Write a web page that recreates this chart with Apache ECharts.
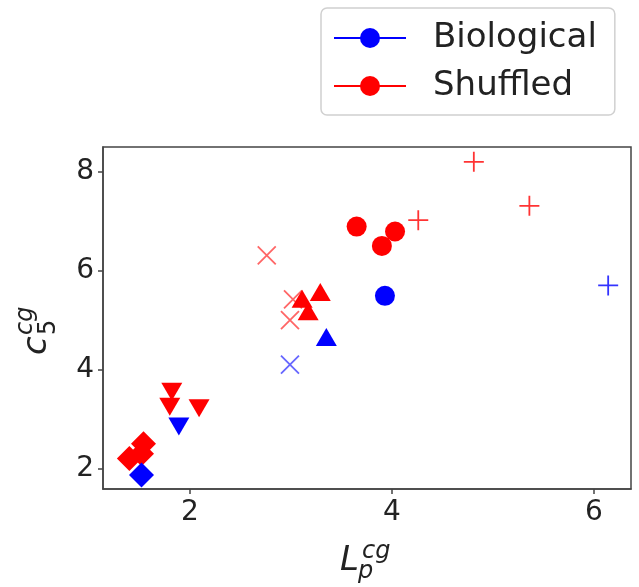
<!DOCTYPE html>
<html>
<head>
<meta charset="utf-8">
<script src="https://cdn.jsdelivr.net/npm/echarts@6/dist/echarts.min.js"></script>
<style>
  html, body { margin: 0; padding: 0; background: #fff; }
  #main { width: 639px; height: 587px; }
</style>
</head>
<body>
<div id="main"></div>
<script>
// tick labels
var xTicks = [2, 4, 6];
var yTicks = [2, 4, 6, 8];

// biological points, one per marker shape [L_p, c_5]
var bioDiamond = [[1.52, 1.87]];
var bioDown = [[1.89, 2.85]];
var bioCross = [[2.99, 4.10]];
var bioUp = [[3.35, 4.66]];
var bioCircle = [[3.93, 5.49]];
var bioPlus = [[6.14, 5.70]];

// shuffled points
var shufDiamond = [[1.40, 2.20], [1.52, 2.30], [1.54, 2.50]];
var shufDown = [[1.82, 3.55], [1.80, 3.25], [2.09, 3.22]];
var shufCross = [[2.76, 6.31], [3.02, 5.42], [2.99, 5.00]];
var shufUp = [[3.11, 5.43], [3.29, 5.57], [3.17, 5.18]];
var shufCircle = [[3.65, 6.89], [3.90, 6.50], [4.03, 6.79]];
var shufPlus = [[4.26, 7.02], [4.81, 8.20], [5.36, 7.31]];

var BLUE = '#0000ff', RED = '#ff0000';
var downTri = 'path://M0,0 L20,0 L10,17 Z';
var crossPath = 'path://M0,0 L10,10 M10,0 L0,10';
var plusPath = 'path://M5,0 L5,10 M0,5 L10,5';

function filled(name, data, symbol, size, color) {
    return {
        name: name, type: 'scatter', data: data,
        symbol: symbol, symbolSize: size,
        itemStyle: { color: color, opacity: 1 },
        emphasis: { disabled: true }
    };
}
function stroked(name, data, symbol, size, color, alpha) {
    return {
        name: name, type: 'scatter', data: data,
        symbol: symbol, symbolSize: size,
        itemStyle: { color: 'none', borderColor: color, borderWidth: 1.8, opacity: alpha },
        emphasis: { disabled: true }
    };
}

var font = 'DejaVu Sans';
var axisCommon = {
    axisLine: { show: true, lineStyle: { color: '#444', width: 1.5 } },
    axisTick: { show: true, inside: false, length: 5, lineStyle: { color: '#444', width: 1.5 } },
    splitLine: { show: false },
    axisLabel: { color: '#222', fontSize: 28, fontFamily: font, margin: 8 }
};

var option = {
    backgroundColor: '#fff',
    animation: false,
    grid: { left: 103, right: 8, top: 147, bottom: 98, show: true, borderColor: '#444', borderWidth: 1.5 },
    xAxis: Object.assign({}, axisCommon, {
        type: 'value', min: 1.139, max: 6.366,
        axisTick: Object.assign({}, axisCommon.axisTick, { customValues: xTicks }),
        axisLabel: Object.assign({}, axisCommon.axisLabel, { customValues: xTicks, margin: 10 })
    }),
    yAxis: Object.assign({}, axisCommon, {
        type: 'value', min: 1.586, max: 8.499,
        axisTick: Object.assign({}, axisCommon.axisTick, { customValues: yTicks }),
        axisLabel: Object.assign({}, axisCommon.axisLabel, { customValues: yTicks, margin: 9 })
    }),
    legend: {
        data: ['Biological', 'Shuffled'],
        orient: 'vertical',
        left: 321, top: 8,
        padding: [13, 18, 12, 12],
        itemWidth: 72, itemHeight: 25, itemGap: 14,
        borderColor: '#d0d0d0', borderWidth: 1.5, borderRadius: 6,
        selectedMode: false,
        textStyle: { fontSize: 34, fontFamily: font, color: '#222', padding: [0, 0, 0, 22] }
    },
    graphic: [
        {
            type: 'group', x: 0, y: 0, silent: true,
            children: [
                { type: 'text', x: 340, y: 561, style: { text: 'L', font: 'italic 34px "DejaVu Sans"', fill: '#222', align: 'left', verticalAlign: 'middle' } },
                { type: 'text', x: 358, y: 572, style: { text: 'p', font: 'italic 24px "DejaVu Sans"', fill: '#222', align: 'left', verticalAlign: 'middle' } },
                { type: 'text', x: 362, y: 552, style: { text: 'cg', font: 'italic 24px "DejaVu Sans"', fill: '#222', align: 'left', verticalAlign: 'middle' } }
            ]
        },
        {
            type: 'group', x: 47, y: 355, rotation: Math.PI / 2, silent: true,
            children: [
                { type: 'text', x: 0, y: -10, style: { text: 'c', font: 'italic 34px "DejaVu Sans"', fill: '#222', align: 'left', verticalAlign: 'middle' } },
                { type: 'text', x: 20, y: 2, style: { text: '5', font: '24px "DejaVu Sans"', fill: '#222', align: 'left', verticalAlign: 'middle' } },
                { type: 'text', x: 20, y: -21, style: { text: 'cg', font: 'italic 24px "DejaVu Sans"', fill: '#222', align: 'left', verticalAlign: 'middle' } }
            ]
        }
    ],
    series: [
        // legend-only entries (line with a circle marker)
        { name: 'Biological', type: 'line', data: [], symbol: 'circle', color: BLUE, lineStyle: { width: 2 } },
        { name: 'Shuffled', type: 'line', data: [], symbol: 'circle', color: RED, lineStyle: { width: 2 } },

        filled('shufDiamond', shufDiamond, 'diamond', 25, RED),
        filled('shufDown', shufDown, downTri, [21, 18], RED),
        stroked('shufCross', shufCross, crossPath, 18, RED, 0.6),
        filled('shufUp', shufUp, 'triangle', [21, 18], RED),
        filled('shufCircle', shufCircle, 'circle', 20, RED),
        stroked('shufPlus', shufPlus, plusPath, 20, RED, 0.8),

        filled('bioDiamond', bioDiamond, 'diamond', 25, BLUE),
        filled('bioDown', bioDown, downTri, [21, 18], BLUE),
        stroked('bioCross', bioCross, crossPath, 18, BLUE, 0.6),
        filled('bioUp', bioUp, 'triangle', [21, 18], BLUE),
        filled('bioCircle', bioCircle, 'circle', 20, BLUE),
        stroked('bioPlus', bioPlus, plusPath, 20, BLUE, 0.8)
    ]
};

var myChart = echarts.init(document.getElementById('main'));
myChart.setOption(option);
</script>
</body>
</html>
